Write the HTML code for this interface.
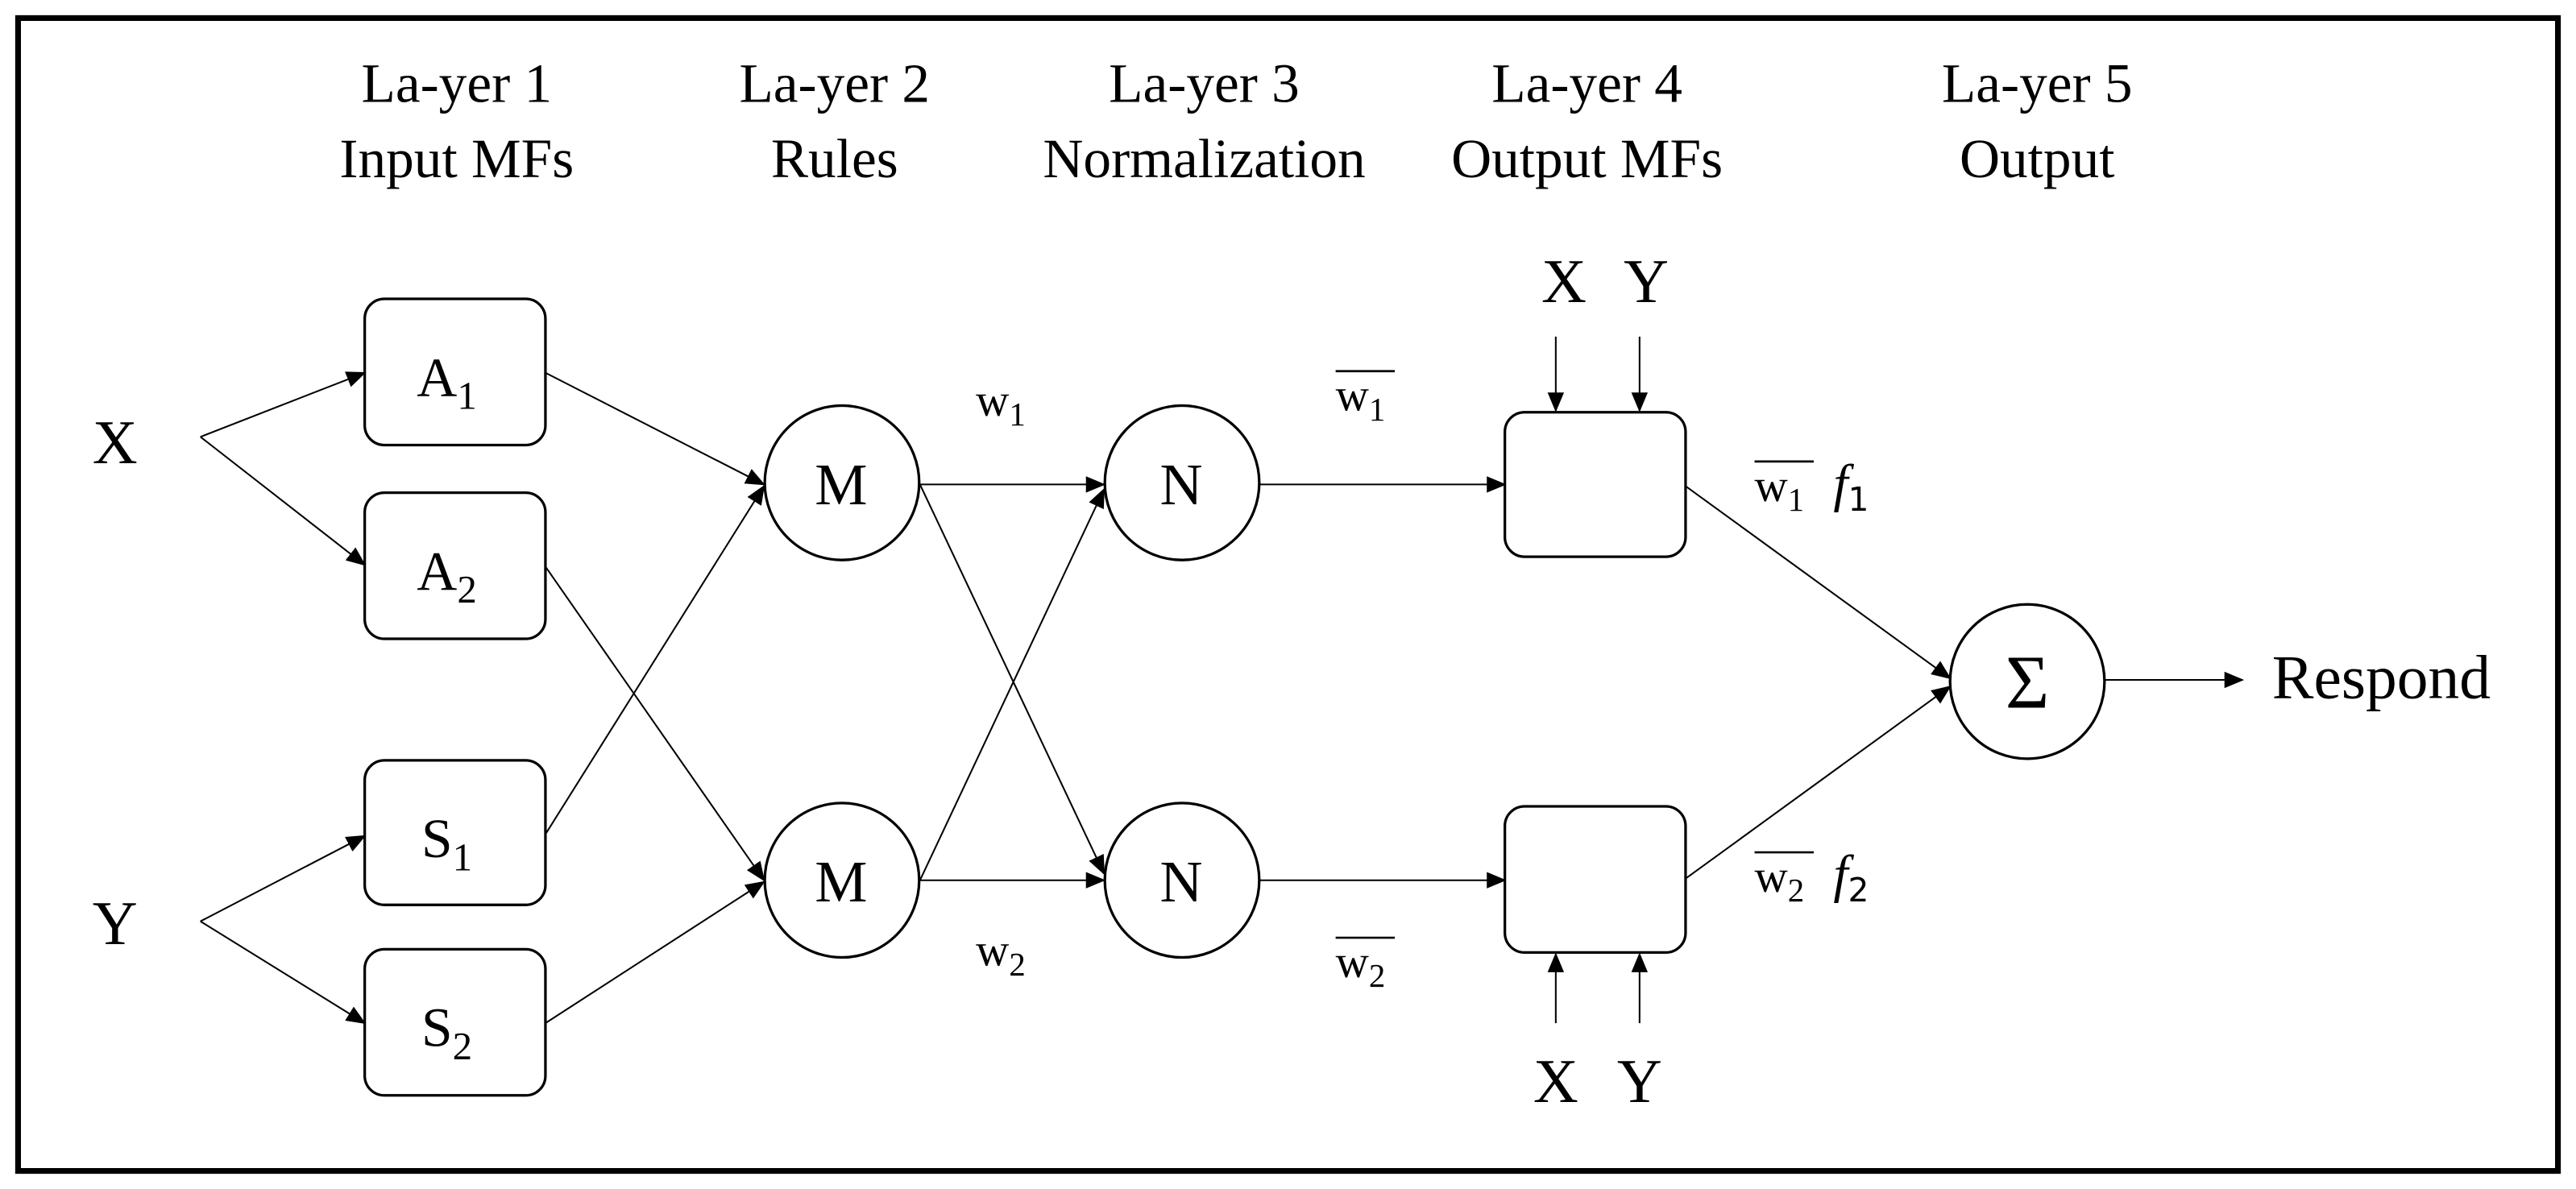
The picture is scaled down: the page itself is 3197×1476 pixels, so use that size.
<!DOCTYPE html>
<html><head><meta charset="utf-8"><style>
html,body{margin:0;padding:0;background:#fff;}
svg{display:block;}
text{font-family:"Liberation Serif",serif;fill:#000;}
.m{font-family:"DejaVu Sans","Liberation Sans",sans-serif;}
</style></head><body>
<svg width="3197" height="1476" viewBox="0 0 1568 724" preserveAspectRatio="none" xmlns="http://www.w3.org/2000/svg">
<defs>
<marker id="a" markerUnits="userSpaceOnUse" markerWidth="12" markerHeight="10" refX="11" refY="5" orient="auto">
<path d="M0,0 L12,5 L0,10 z" fill="#000"/></marker>
</defs>
<rect x="11" y="11" width="1546" height="702" fill="#fff" stroke="#000" stroke-width="3.5"/>
<g font-size="34" text-anchor="middle">
<text x="278" y="62">La-yer 1</text><text x="278" y="108">Input MFs</text>
<text x="508" y="62">La-yer 2</text><text x="508" y="108">Rules</text>
<text x="733" y="62">La-yer 3</text><text x="733" y="108">Normalization</text>
<text x="966" y="62">La-yer 4</text><text x="966" y="108">Output MFs</text>
<text x="1240" y="62">La-yer 5</text><text x="1240" y="108">Output</text>
</g>
<g font-size="38">
<text x="70" y="282" text-anchor="middle">X</text>
<text x="70" y="575" text-anchor="middle">Y</text>
<text x="952" y="184" text-anchor="middle">X</text>
<text x="1002" y="184" text-anchor="middle">Y</text>
<text x="947" y="671" text-anchor="middle">X</text>
<text x="998" y="671" text-anchor="middle">Y</text>
<text x="1383" y="425">Respond</text>
</g>
<g fill="#fff" stroke="#000" stroke-width="1.6">
<rect x="222" y="182" width="110" height="89" rx="12"/>
<rect x="222" y="300" width="110" height="89" rx="12"/>
<rect x="222" y="463" width="110" height="88" rx="12"/>
<rect x="222" y="578" width="110" height="89" rx="12"/>
<rect x="916" y="251" width="110" height="88" rx="12"/>
<rect x="916" y="491" width="110" height="89" rx="12"/>
<circle cx="512.5" cy="294" r="47"/>
<circle cx="512.5" cy="536" r="47"/>
<circle cx="719.5" cy="294" r="47"/>
<circle cx="719.5" cy="536" r="47"/>
<circle cx="1234" cy="415" r="47"/>
</g>
<g stroke="#000" stroke-width="1" fill="none" marker-end="url(#a)">
<path d="M122,266 L222,227"/><path d="M122,266 L222,344"/>
<path d="M122,561 L222,509"/><path d="M122,561 L222,623"/>
<path d="M332,227 L465,295"/><path d="M332,345 L465,536"/>
<path d="M332,508 L465,296"/><path d="M332,623 L465,537"/>
<path d="M560,295 L672,295"/><path d="M560,295 L672,532"/>
<path d="M560,536 L672,536"/><path d="M560,536 L672,298"/>
<path d="M767,295 L916,295"/><path d="M767,536 L916,536"/>
<path d="M947,205 L947,250"/><path d="M998,205 L998,250"/>
<path d="M947,623 L947,581"/><path d="M998,623 L998,581"/>
<path d="M1026,296 L1187,413"/><path d="M1026,535 L1187,418"/>
<path d="M1281,414 L1365,414"/>
</g>
<g class="m" font-size="34" text-anchor="middle">
<text x="272" y="241">A<tspan font-size="24" dy="8">1</tspan></text>
<text x="272" y="359">A<tspan font-size="24" dy="8">2</tspan></text>
<text x="272" y="522">S<tspan font-size="24" dy="8">1</tspan></text>
<text x="272" y="637">S<tspan font-size="24" dy="8">2</tspan></text>
</g>
<g font-size="36" text-anchor="middle">
<text x="512" y="307">M</text><text x="512" y="549">M</text>
<text x="719" y="307">N</text><text x="719" y="549">N</text>
<text x="1234" y="431" font-size="46">Σ</text>
</g>
<g class="m" font-size="28">
<text x="594" y="253">w<tspan font-size="20" dy="6">1</tspan></text>
<text x="594" y="588">w<tspan font-size="20" dy="6">2</tspan></text>
<text x="813" y="250">w<tspan font-size="20" dy="6">1</tspan></text>
<text x="813" y="595">w<tspan font-size="20" dy="6">2</tspan></text>
<text x="1068" y="305">w<tspan font-size="20" dy="6">1</tspan></text>
<text x="1068" y="543">w<tspan font-size="20" dy="6">2</tspan></text>
</g>
<g font-size="32">
<text x="1116" y="305" font-style="italic">f<tspan class="m" font-size="20" dy="6" font-style="normal">1</tspan></text>
<text x="1116" y="543" font-style="italic">f<tspan class="m" font-size="20" dy="6" font-style="normal">2</tspan></text>
</g>
<g stroke="#000" stroke-width="1.3">
<line x1="813" y1="226" x2="849" y2="226"/>
<line x1="813" y1="571" x2="849" y2="571"/>
<line x1="1068" y1="281" x2="1104" y2="281"/>
<line x1="1068" y1="519" x2="1104" y2="519"/>
</g>
</svg>
</body></html>
